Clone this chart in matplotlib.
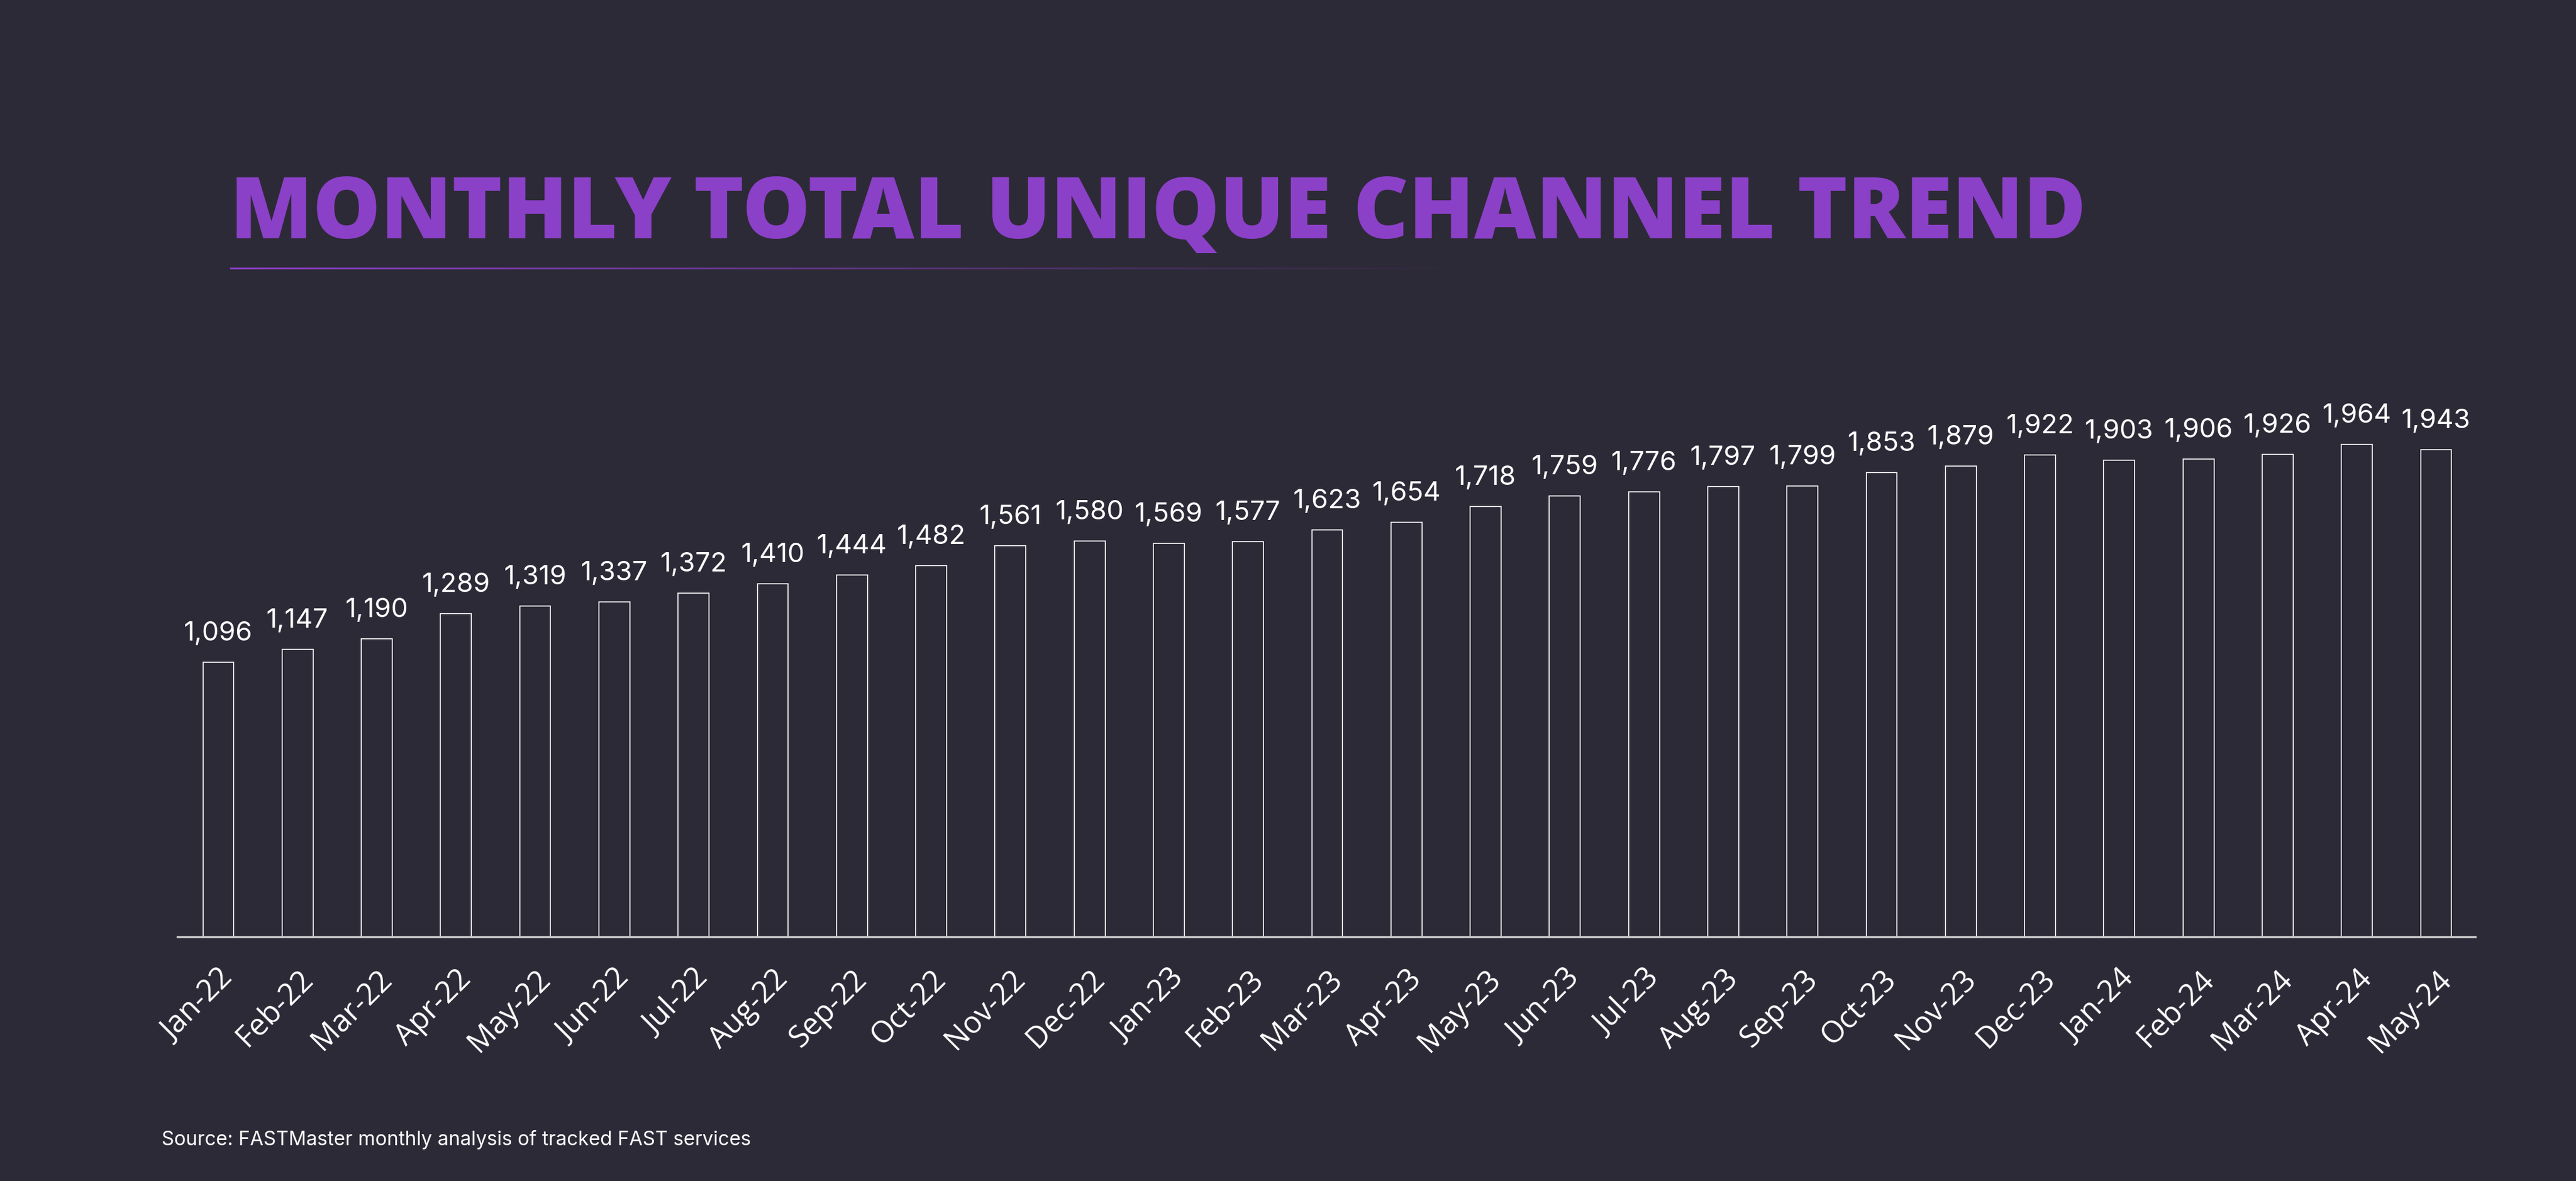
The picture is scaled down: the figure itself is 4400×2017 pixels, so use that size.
import numpy as np
import matplotlib
matplotlib.use("Agg")
import matplotlib.pyplot as plt
from matplotlib.colors import to_rgb

months = ["Jan-22", "Feb-22", "Mar-22", "Apr-22", "May-22", "Jun-22", "Jul-22", "Aug-22",
          "Sep-22", "Oct-22", "Nov-22", "Dec-22", "Jan-23", "Feb-23", "Mar-23", "Apr-23",
          "May-23", "Jun-23", "Jul-23", "Aug-23", "Sep-23", "Oct-23", "Nov-23", "Dec-23",
          "Jan-24", "Feb-24", "Mar-24", "Apr-24", "May-24"]
channels = [1096, 1147, 1190, 1289, 1319, 1337, 1372, 1410, 1444, 1482, 1561, 1580, 1569,
            1577, 1623, 1654, 1718, 1759, 1776, 1797, 1799, 1853, 1879, 1922, 1903, 1906,
            1926, 1964, 1943]

title = "MONTHLY TOTAL UNIQUE CHANNEL TREND"
source = "Source: FASTMaster monthly analysis of tracked FAST services"

BG = "#2d2a37"
PURPLE = "#8b40c8"
W, H = 4400, 2017
fig = plt.figure(figsize=(W / 100, H / 100), dpi=100, facecolor=BG)

# main axes
ax_left, ax_right = 303 / W, 4228 / W
ax_bottom = (H - 1600) / H
ymax = 2300
ax_h = ymax * 0.428 / H
ax = fig.add_axes([ax_left, ax_bottom, ax_right - ax_left, ax_h])
ax.set_facecolor(BG)
x = np.arange(len(months))
ax.bar(x, channels, width=0.39, color=BG, edgecolor="white", linewidth=1.2)
ax.set_xlim(-0.517, len(months) - 1 + 0.495)
ax.set_ylim(0, ymax)
for xi, v in zip(x, channels):
    ax.annotate(f"{v:,}", (xi, v), xytext=(0, 28), textcoords="offset pixels",
                ha="center", va="bottom", color="white", fontsize=33,
                family="Inter")
for s in ["top", "right", "left"]:
    ax.spines[s].set_visible(False)
ax.spines["bottom"].set_color("#d0d0d0")
ax.spines["bottom"].set_linewidth(2.5)
ax.set_yticks([])
ax.set_xticks(x)
ax.set_xticklabels(months, rotation=45, ha="right", rotation_mode="anchor",
                   color="white", fontsize=37, family="Open Sans")
ax.tick_params(axis="x", length=0, pad=34)

# title
fig.text(393 / W, 1 - 407 / H, title, color=PURPLE, fontsize=105,
         fontweight="heavy", family="Open Sans", ha="left", va="baseline")

# gradient underline
lax = fig.add_axes([393 / W, 1 - 460 / H, (2520 - 393) / W, 3 / H])
lax.axis("off")
r, g, b = to_rgb(PURPLE)
grad = np.zeros((1, 256, 4))
grad[..., 0], grad[..., 1], grad[..., 2] = r, g, b
grad[..., 3] = np.linspace(1.0, 0.0, 256)
lax.imshow(grad, aspect="auto", extent=[0, 1, 0, 1])

# source
fig.text(276 / W, 1 - 1956 / H, source, color="white", fontsize=24,
         family="Inter", ha="left", va="baseline")

fig.savefig("out.png", dpi=100, facecolor=BG)
